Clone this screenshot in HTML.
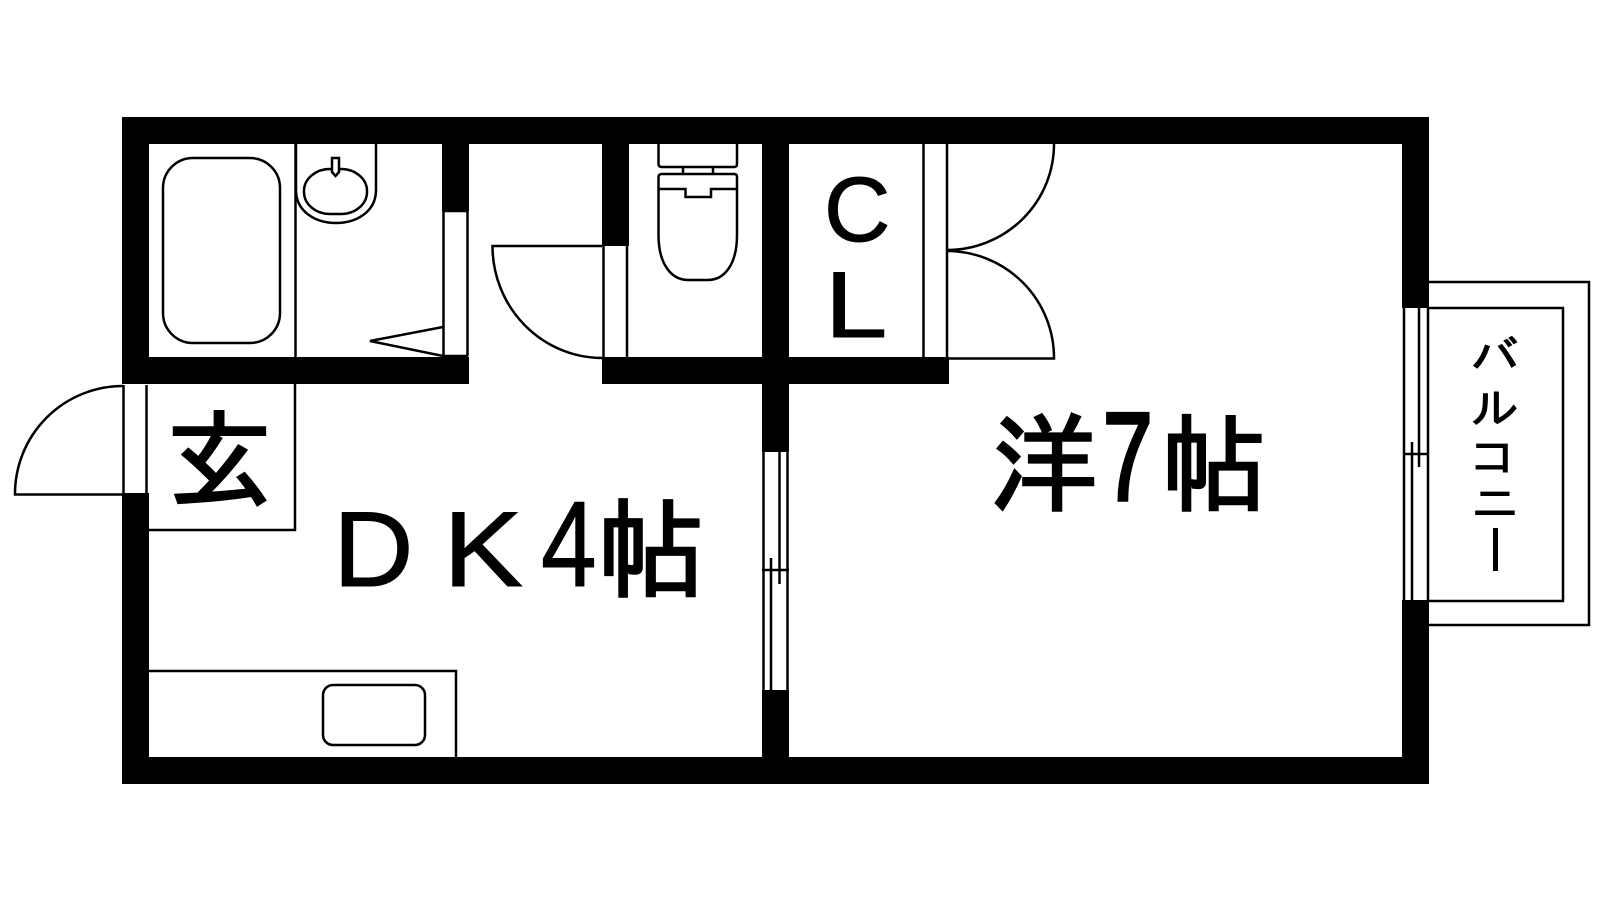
<!DOCTYPE html>
<html><head><meta charset="utf-8"><style>
html,body{margin:0;padding:0;background:#fff;width:1600px;height:900px;overflow:hidden}
svg{display:block}
.j{font-family:"IPAGothic","Noto Sans CJK JP",sans-serif;fill:#000;stroke:#000;stroke-width:2.500px}
.s{font-family:"IPAGothic","Noto Sans CJK JP",sans-serif;fill:#000;stroke:#000;stroke-width:1px;text-anchor:middle}
.l{font-family:"Liberation Sans",sans-serif;fill:#000;stroke:#000;stroke-width:1px}
.d{font-family:"Liberation Sans",sans-serif;fill:#000;stroke:#000;stroke-width:3.500px}
</style></head><body>
<svg width="1600" height="900" viewBox="0 0 1600 900" xmlns="http://www.w3.org/2000/svg">
<rect width="1600" height="900" fill="#fff"/>
<!-- thin lines -->
<g fill="none" stroke="#000" stroke-width="2.500">
<!-- balcony -->
<path d="M1429 282H1589V625H1429"/>
<path d="M1429 308H1563V601H1429"/>
<!-- balcony window -->
<path d="M1404 308V600M1412 442V600M1419 308V467M1428 308V600M1403 454H1429"/>
<!-- DK-bed window -->
<path d="M763.500 452V690M771 558V690M779.500 452V584M787.500 452V690M762 570H789"/>
<!-- bath -->
<path d="M295.500 144V357"/>
<rect x="163" y="158" width="117" height="185" rx="30" ry="30"/>
<path d="M296 144V190C296 212 316 223 336 223C356 223 376 212 376 190V144"/>
<rect x="304" y="169" width="63" height="45" rx="26" ry="22"/>
<path d="M332 158H339V172L335.500 176L332 172Z" fill="#fff"/>
<path d="M443.500 211V356H468M467.500 211V356M443 211H468"/>
<path d="M443 327L370 341L443 356"/>
<!-- door to bath/toilet -->
<path d="M602 246H492.500A110 112 0 0 0 602 358"/>
<path d="M603.500 246V357M627 246V357"/>
<!-- toilet -->
<path d="M658.500 144V164Q658.500 167 662 167H734Q737 167 737 164V144"/>
<path d="M683 167V174M713 167V174"/>
<path d="M658.500 189V177Q658.500 174 662 174H734Q737 174 737 177V189"/>
<path d="M658.500 189H685.500V197H711V189H737"/>
<path d="M658.500 189V235C658.500 265 672 280 688 280H708C724 280 737 265 737 235V189"/>
<!-- closet -->
<path d="M923.500 144V357M947 144V357"/>
<path d="M947 250A107 106 0 0 0 1054 144"/>
<path d="M947 251A107 107 0 0 1 1054 358.500H947"/>
<!-- entrance -->
<path d="M123 386A108 108 0 0 0 15 494.500H123"/>
<path d="M123.500 385V493M146.500 385V493"/>
<path d="M149 530H295V384"/>
<!-- counter -->
<path d="M149 671H456V757"/>
<rect x="323" y="685" width="102" height="60" rx="10"/>
</g>
<!-- walls -->
<g fill="#000">
<rect x="122" y="117" width="1307" height="27"/>
<rect x="122" y="757" width="1307" height="27"/>
<rect x="122" y="117" width="27" height="267"/>
<rect x="122" y="493" width="27" height="291"/>
<rect x="1402" y="117" width="27" height="191"/>
<rect x="1402" y="600" width="27" height="184"/>
<rect x="762" y="117" width="27" height="335"/>
<rect x="762" y="690" width="27" height="94"/>
<rect x="122" y="357" width="347" height="27"/>
<rect x="602" y="357" width="347" height="27"/>
<rect x="602" y="117" width="27" height="129"/>
<rect x="442" y="117" width="27" height="94"/>
</g>
<!-- labels -->
<text class="j" x="166" y="499" font-size="107">玄</text>
<text class="l" transform="translate(342 586) scale(1.04 1)" x="-8.500" y="0" font-size="107">D</text>
<text class="l" transform="translate(452 586) scale(1.12 1)" x="-8" y="0" font-size="107">K</text>
<text class="l" transform="translate(544 586) scale(.82 1)" x="-3.700" y="0" font-size="122">4</text>
<text class="j" x="597" y="589" font-size="108">帖</text>
<text class="j" x="990" y="503" font-size="108">洋</text>
<text class="d" transform="translate(1107 500) scale(.72 1)" x="-6" y="0" font-size="125">7</text>
<text class="j" x="1161" y="503" font-size="106">帖</text>
<text class="l" x="824" y="241" font-size="92">C</text>
<text class="l" transform="translate(833 337) scale(1.2 1)" x="-7" y="0" font-size="94">L</text>
<text class="s" transform="translate(1495 372) scale(1.1 1)" font-size="44">バ</text>
<text class="s" transform="translate(1495 424) scale(1.1 1)" font-size="44">ル</text>
<text class="s" transform="translate(1493 473) scale(1.1 1)" font-size="44">コ</text>
<text class="s" transform="translate(1495 519) scale(1.1 1)" font-size="44">ニ</text>
<rect x="1493" y="528" width="5" height="43" fill="#000"/>
</svg>
</body></html>
